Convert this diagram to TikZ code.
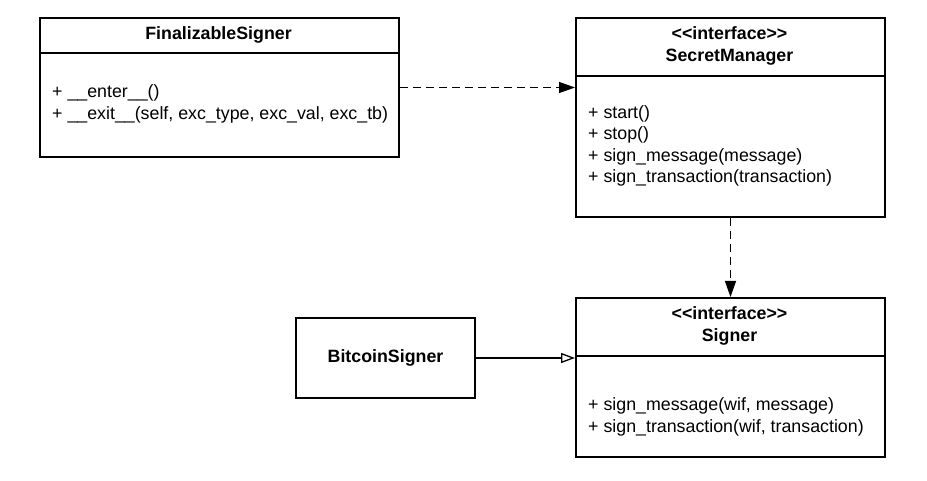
\documentclass[tikz,border=0pt]{standalone}
\usepackage{fontspec}
\setmainfont{Liberation Sans}
\usetikzlibrary{arrows.meta}
\begin{document}
\begin{tikzpicture}[x=1pt,y=-1pt,
  box/.style={draw, line width=2pt, rectangle, inner sep=0pt, anchor=north west},
  divider/.style={line width=2pt},
  txt/.style={font=\fontsize{17.8}{21.3}\selectfont, inner sep=0pt, align=left, anchor=west},
  ttl/.style={font=\fontsize{17.8}{21.5}\selectfont\bfseries, inner sep=0pt, align=center},
  dep/.style={line width=1.3pt, dash pattern=on 8pt off 5pt, -{Triangle[length=16pt,width=11pt]}},
  realize/.style={line width=1.3pt, -{Triangle[open,length=14pt,width=10pt,line width=1.3pt]}}]
\useasboundingbox[fill=white] (0,0) rectangle (927,481);
% FinalizableSigner
\node[box, minimum width=359pt, minimum height=139pt] (fs) at (39,17) {};
\coordinate (fsd) at (0,53);
\draw[divider] (fs.west |- fsd) -- (fs.east |- fsd);
\node[ttl] (fst) at (218.5,35) {FinalizableSigner};
\node[txt] (fsm) at (52,104) {+ \_\_enter\_\_()\\+ \_\_exit\_\_(self, exc\_type, exc\_val, exc\_tb)};
% SecretManager
\node[box, minimum width=309pt, minimum height=199pt] (sm) at (575,17) {};
\coordinate (smd) at (0,76);
\draw[divider] (sm.west |- smd) -- (sm.east |- smd);
\node[ttl] (smt) at (729.5,46) {<\kern0pt<interface>\kern0pt>\\SecretManager};
\node[txt] (smm) at (588,146) {+ start()\\+ stop()\\+ sign\_message(message)\\+ sign\_transaction(transaction)};
% Signer
\node[box, minimum width=309pt, minimum height=159pt] (sg) at (575,297) {};
\coordinate (sgd) at (0,356);
\draw[divider] (sg.west |- sgd) -- (sg.east |- sgd);
\node[ttl] (sgt) at (729.5,326) {<\kern0pt<interface>\kern0pt>\\Signer};
\node[txt] (sgm) at (588,417) {+ sign\_message(wif, message)\\+ sign\_transaction(wif, transaction)};
% BitcoinSigner
\node[box, minimum width=179pt, minimum height=80pt] (bs) at (295,317) {};
\node[ttl] (bst) at (bs.center) {BitcoinSigner};
% connectors
\draw[dep] (fs.east) -- (fs.east -| sm.west);
\draw[dep] (sm.south) -- (sg.north);
\draw[realize] (bs.east) -- (bs.east -| sg.west);
\end{tikzpicture}
\end{document}
